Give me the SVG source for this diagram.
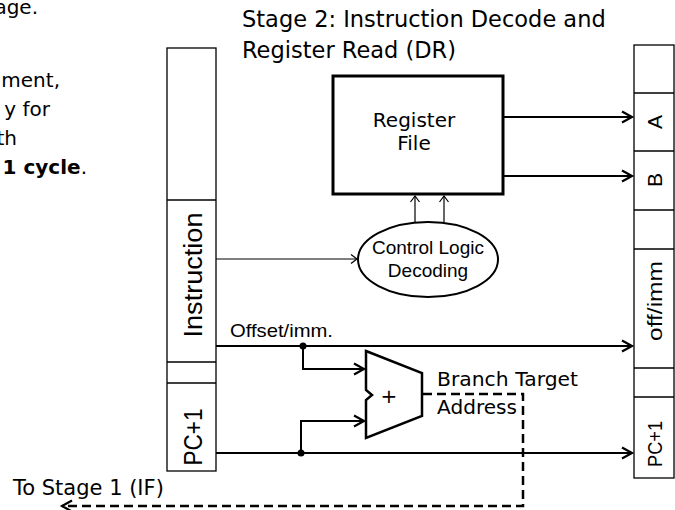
<svg xmlns="http://www.w3.org/2000/svg" width="675" height="510" viewBox="0 0 675 510">
<style>
.reg{fill:#fff;stroke:#000;stroke-width:1.3}
.div{stroke:#000;stroke-width:1.3}
.wire{stroke:#000;stroke-width:2;fill:none}
.thin{stroke:#000;stroke-width:1.2;fill:none}
.dash{stroke:#000;stroke-width:2.5;fill:none;stroke-dasharray:9 5}
.cm{font-family:"DejaVu Sans","Noto Sans",sans-serif;fill:#000}
.cal{font-family:"Liberation Sans",Arial,sans-serif;fill:#000}
</style>
<defs>
<marker id="ah" markerUnits="userSpaceOnUse" markerWidth="16" markerHeight="16" viewBox="-13 -8 16 16" refX="0" refY="0" orient="auto">
<path d="M-10,-5.5 L0,0 L-10,5.5" fill="none" stroke="#000" stroke-width="2.2"/>
</marker>
<marker id="at" markerUnits="userSpaceOnUse" markerWidth="12" markerHeight="12" viewBox="-9 -6 12 12" refX="0" refY="0" orient="auto">
<path d="M-6,-4.5 L0,0 L-6,4.5" fill="none" stroke="#000" stroke-width="1.2"/>
</marker>
</defs>
<rect width="675" height="510" fill="#fff"/>

<g id="side-text" class="cm" font-size="20">
<text x="38" y="14" text-anchor="end">age.</text>
<text x="60" y="87" text-anchor="end">ment,</text>
<text x="50" y="116" text-anchor="end">y for</text>
<text x="17" y="145" text-anchor="end">th</text>
<text x="87" y="174" text-anchor="end"><tspan font-weight="bold">1 cycle</tspan>.</text>
</g>

<g id="title" class="cm" font-size="22.5">
<text x="242" y="27">Stage 2: Instruction Decode and</text>
<text x="242" y="58">Register Read (DR)</text>
</g>

<g id="left-register">
<rect class="reg" x="167" y="48" width="49" height="423"/>
<line class="div" x1="167" y1="200" x2="216" y2="200"/>
<line class="div" x1="167" y1="362" x2="216" y2="362"/>
<line class="div" x1="167" y1="383" x2="216" y2="383"/>
<text class="cal" font-size="26" text-anchor="middle" textLength="125" lengthAdjust="spacingAndGlyphs" transform="translate(202,275) rotate(-90)">Instruction</text>
<text class="cal" font-size="26" text-anchor="middle" textLength="57" lengthAdjust="spacingAndGlyphs" transform="translate(202,437) rotate(-90)">PC+1</text>
</g>

<g id="right-register">
<rect class="reg" x="634" y="45" width="40" height="433"/>
<line class="div" x1="634" y1="93" x2="674" y2="93"/>
<line class="div" x1="634" y1="151" x2="674" y2="151"/>
<line class="div" x1="634" y1="210" x2="674" y2="210"/>
<line class="div" x1="634" y1="249" x2="674" y2="249"/>
<line class="div" x1="634" y1="368" x2="674" y2="368"/>
<line class="div" x1="634" y1="397" x2="674" y2="397"/>
<g class="cal" font-size="21" text-anchor="middle">
<text transform="translate(662,122) rotate(-90)">A</text>
<text transform="translate(662,180) rotate(-90)">B</text>
<text transform="translate(662,301) rotate(-90)" textLength="80" lengthAdjust="spacingAndGlyphs">off/imm</text>
<text transform="translate(662,444) rotate(-90)" textLength="46" lengthAdjust="spacingAndGlyphs">PC+1</text>
</g>
</g>

<g id="register-file">
<rect x="333" y="76" width="170" height="118" fill="#fff" stroke="#000" stroke-width="3"/>
<text class="cm" font-size="20" text-anchor="middle" x="414" y="127">Register</text>
<text class="cm" font-size="20" text-anchor="middle" x="414" y="150">File</text>
</g>

<g id="control-logic">
<ellipse cx="428" cy="259.5" rx="70" ry="37.5" fill="#fff" stroke="#000" stroke-width="2"/>
<text class="cal" font-size="19" text-anchor="middle" x="428" y="254">Control Logic</text>
<text class="cal" font-size="19" text-anchor="middle" x="428" y="277">Decoding</text>
</g>

<g id="adder">
<polygon points="366,351 422,373 422,416 366,438 366,400 372,395 366,390" fill="#fff" stroke="#000" stroke-width="2.5" stroke-linejoin="miter"/>
<text class="cm" font-size="20" text-anchor="middle" x="389" y="403">+</text>
</g>

<g id="connectors">
<line class="thin" x1="216" y1="259" x2="357" y2="259" marker-end="url(#at)"/>
<line class="thin" x1="415" y1="222" x2="415" y2="196" marker-end="url(#at)"/>
<line class="thin" x1="444" y1="222" x2="444" y2="196" marker-end="url(#at)"/>
<line class="wire" x1="503" y1="117" x2="632" y2="117" marker-end="url(#ah)"/>
<line class="wire" x1="503" y1="176" x2="632" y2="176" marker-end="url(#ah)"/>
<line class="wire" x1="216" y1="346" x2="632" y2="346" marker-end="url(#ah)"/>
<line class="wire" x1="216" y1="453" x2="632" y2="453" marker-end="url(#ah)"/>
<path class="wire" d="M303,346 V369 H364" marker-end="url(#ah)"/>
<path class="wire" d="M301,453 V421 H364" marker-end="url(#ah)"/>
<circle cx="303" cy="346" r="3.5" fill="#000"/>
<circle cx="301" cy="453" r="3.5" fill="#000"/>
<path class="dash" d="M423,394 H523 V506 H62" marker-end="url(#ah)"/>
</g>

<g id="labels">
<text class="cal" font-size="19" x="230" y="337" textLength="103" lengthAdjust="spacingAndGlyphs">Offset/imm.</text>
<text class="cm" font-size="20" x="437" y="386" textLength="141" lengthAdjust="spacingAndGlyphs">Branch Target</text>
<text class="cm" font-size="20" x="437" y="414" textLength="80" lengthAdjust="spacingAndGlyphs">Address</text>
<text class="cm" font-size="21" x="13" y="495">To Stage 1 (IF)</text>
</g>
</svg>
